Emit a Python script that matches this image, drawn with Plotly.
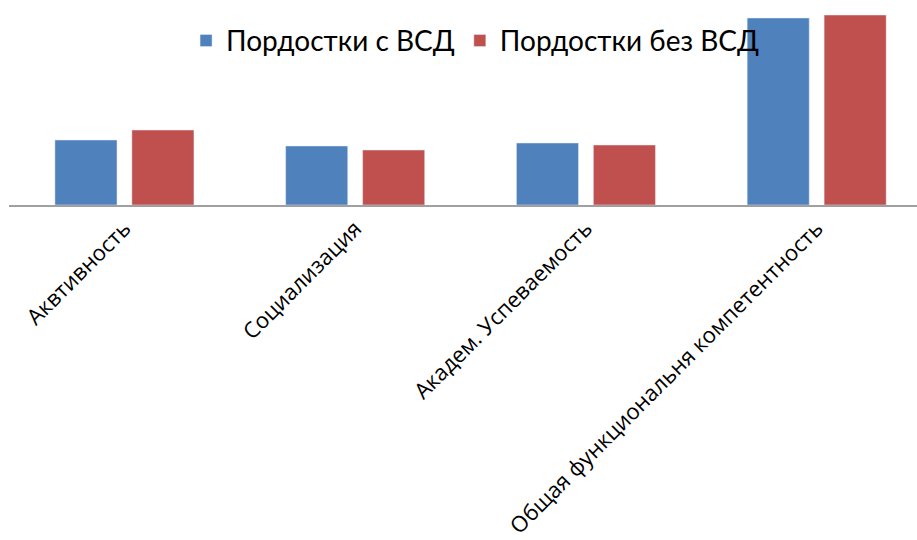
import plotly.graph_objects as go

categories = ["Аквтивность", "Социализация", "Академ. Успеваемость",
              "Общая функциональня компетентность"]
series_names = ["Пордостки с ВСД", "Пордостки без ВСД"]
with_vsd = [65, 59, 62, 187]
without_vsd = [75, 55, 60, 190]
colors = ["#4F81BD", "#C0504D"]

fig = go.Figure()
fig.add_trace(go.Bar(x=categories, y=with_vsd, name=series_names[0],
                     marker_color=colors[0], width=0.269, offset=-0.301))
fig.add_trace(go.Bar(x=categories, y=without_vsd, name=series_names[1],
                     marker_color=colors[1], width=0.269, offset=0.0325))

fig.update_layout(
    width=917, height=540,
    margin=dict(l=9, r=0, t=10, b=335),
    barmode="overlay",
    plot_bgcolor="white", paper_bgcolor="white",
    font=dict(family="Lato, Open Sans, sans-serif", color="black"),
    showlegend=True,
    legend=dict(orientation="h", x=0.195, xanchor="left", y=0.97, yanchor="top",
                bgcolor="rgba(0,0,0,0)", font=dict(size=28),
                itemwidth=30, tracegroupgap=0),
    xaxis=dict(type="category", range=[-0.5, 3.435], showline=True,
               linecolor="#A0A0A0", linewidth=2, ticks="", tickangle=-45,
               tickfont=dict(family="Open Sans, sans-serif", size=22, color="black"),
               showgrid=False, automargin=False),
    yaxis=dict(range=[0, 195], visible=False, showgrid=False, zeroline=False),
)

fig.write_html("out.html")
